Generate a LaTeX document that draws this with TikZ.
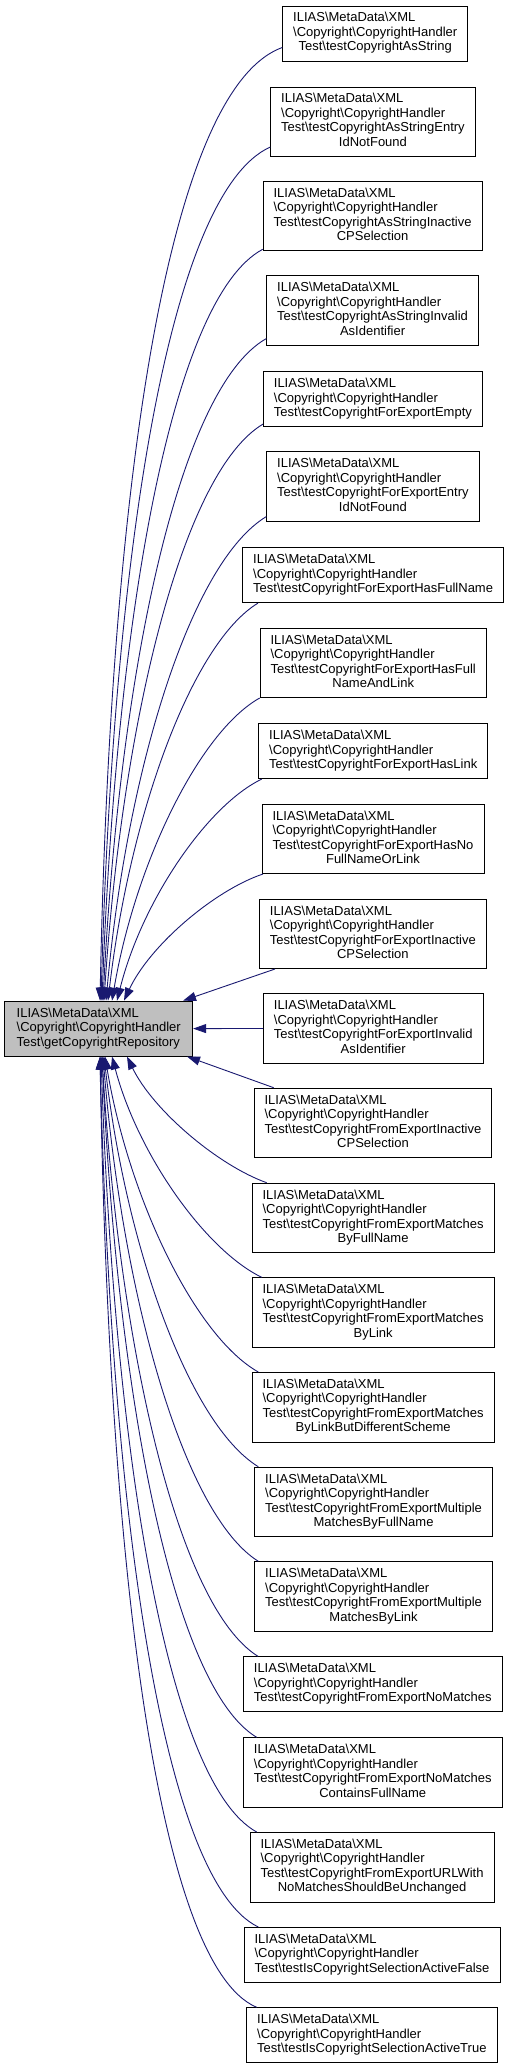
\documentclass[tikz,border=0pt]{standalone}
\usepackage{fontspec}
\setmainfont{Liberation Sans}
\usepackage{tikz}
\usetikzlibrary{arrows.meta}
\usepackage{xcolor}
\definecolor{edgeblue}{HTML}{191970}
\definecolor{rootgray}{HTML}{BFBFBF}
\newcommand{\bsl}{\textbackslash}
\newcommand{\lblthree}[1]{\begin{tabular}{@{}l@{}}ILIAS\bsl MetaData\bsl XML\\\bsl Copyright\bsl CopyrightHandler\\\multicolumn{1}{@{}c@{}}{#1}\end{tabular}}
\newcommand{\lblfour}[2]{\begin{tabular}{@{}l@{}}ILIAS\bsl MetaData\bsl XML\\\bsl Copyright\bsl CopyrightHandler\\#1\\\multicolumn{1}{@{}c@{}}{#2}\end{tabular}}
\tikzset{%
	test node/.style={
		rectangle,
		draw=black,
		line width=0.8pt,
		anchor=north west,
		inner xsep=10.5pt,
		inner ysep=5.75pt,
		font=\fontsize{13}{14.5}\selectfont
	},
	root node/.style={
		test node,
		fill=rootgray,
		inner xsep=12pt
	},
	call edge/.style={
		draw=edgeblue,
		line width=0.9pt,
		-{Triangle[length=13pt,width=9pt]}
	},
}
\begin{document}
\begin{tikzpicture}[
				x=1pt,
				y=-1pt
				]
				\useasboundingbox (0,0) rectangle (515,2068);
				% the called helper
				\node[root node] (root) at (4.3,1000.7) {\begin{tabular}{@{}l@{}}ILIAS\bsl MetaData\bsl XML\\\bsl Copyright\bsl CopyrightHandler\\Test\bsl getCopyrightRepository\end{tabular}};
				% the tests
				\node[test node] (t1) at (282.3,5.7) {\lblthree{Test\bsl testCopyrightAsString}};
				\node[test node] (t2) at (270.3,86.7) {\lblfour{Test\bsl testCopyrightAsStringEntry}{IdNotFound}};
				\node[test node] (t3) at (262.7,181) {\lblfour{Test\bsl testCopyrightAsStringInactive}{CPSelection}};
				\node[test node] (t4) at (266.3,275.3) {\lblfour{Test\bsl testCopyrightAsStringInvalid}{AsIdentifier}};
				\node[test node] (t5) at (263,371.3) {\lblthree{Test\bsl testCopyrightForExportEmpty}};
				\node[test node] (t6) at (266.3,451.3) {\lblfour{Test\bsl testCopyrightForExportEntry}{IdNotFound}};
				\node[test node] (t7) at (242.3,547.3) {\lblthree{Test\bsl testCopyrightForExportHasFullName}};
				\node[test node] (t8) at (259.7,627.7) {\lblfour{Test\bsl testCopyrightForExportHasFull}{NameAndLink}};
				\node[test node] (t9) at (258.3,723.3) {\lblthree{Test\bsl testCopyrightForExportHasLink}};
				\node[test node] (t10) at (261.7,803.7) {\lblfour{Test\bsl testCopyrightForExportHasNo}{FullNameOrLink}};
				\node[test node] (t11) at (259,898.7) {\lblfour{Test\bsl testCopyrightForExportInactive}{CPSelection}};
				\node[test node] (t12) at (263,993.3) {\lblfour{Test\bsl testCopyrightForExportInvalid}{AsIdentifier}};
				\node[test node] (t13) at (253.7,1087.7) {\lblfour{Test\bsl testCopyrightFromExportInactive}{CPSelection}};
				\node[test node] (t14) at (251.7,1182.7) {\lblfour{Test\bsl testCopyrightFromExportMatches}{ByFullName}};
				\node[test node] (t15) at (251.7,1277.3) {\lblfour{Test\bsl testCopyrightFromExportMatches}{ByLink}};
				\node[test node] (t16) at (251.7,1372) {\lblfour{Test\bsl testCopyrightFromExportMatches}{ByLinkButDifferentScheme}};
				\node[test node] (t17) at (254.3,1466.7) {\lblfour{Test\bsl testCopyrightFromExportMultiple}{MatchesByFullName}};
				\node[test node] (t18) at (254.3,1561.3) {\lblfour{Test\bsl testCopyrightFromExportMultiple}{MatchesByLink}};
				\node[test node] (t19) at (243,1656.3) {\lblthree{Test\bsl testCopyrightFromExportNoMatches}};
				\node[test node] (t20) at (243,1737.3) {\lblfour{Test\bsl testCopyrightFromExportNoMatches}{ContainsFullName}};
				\node[test node] (t21) at (249.7,1832) {\lblfour{Test\bsl testCopyrightFromExportURLWith}{NoMatchesShouldBeUnchanged}};
				\node[test node] (t22) at (243.7,1927) {\lblthree{Test\bsl testIsCopyrightSelectionActiveFalse}};
				\node[test node] (t23) at (246.3,2007.3) {\lblthree{Test\bsl testIsCopyrightSelectionActiveTrue}};
				% calls from above
				\draw[call edge] ([yshift=14pt]t1.south west) .. controls (165.1,89.9) and (110,499.7) .. ([xshift=95.7pt]root.north west);
				\draw[call edge] ([yshift=10pt]t2.south west) .. controls (167.5,193.5) and (113,560.9) .. ([xshift=96.7pt]root.north west);
				\draw[call edge] ([yshift=2pt]t3.south west) .. controls (170.9,298.4) and (116,621.7) .. ([xshift=97.7pt]root.north west);
				\draw[call edge] ([yshift=7pt]t4.south west) .. controls (178.4,388.3) and (119.5,673.6) .. ([xshift=98.7pt]root.north west);
				\draw[call edge] ([yshift=3pt]t5.south west) .. controls (182.4,472.1) and (122.3,721.2) .. ([xshift=99.7pt]root.north west);
				\draw[call edge] ([yshift=5pt]t6.south west) .. controls (190.3,562.5) and (126.8,771.1) .. ([xshift=101.7pt]root.north west);
				\draw[call edge] ([xshift=15.7pt]t7.south west) .. controls (191.5,643.5) and (129.6,815.6) .. ([xshift=103.7pt]root.north west);
				\draw[call edge] (t8.south west) .. controls (199.4,731.8) and (135.5,862.7) .. ([xshift=107.7pt]root.north west);
				\draw[call edge] ([xshift=3.4pt]t9.south west) .. controls (206.9,805.5) and (141.9,901.4) .. ([xshift=112.7pt]root.north west);
				\draw[call edge] ([xshift=1.3pt]t10.south west) .. controls (215,890) and (150,945) .. ([xshift=119.7pt]root.north west);
				\draw[call edge] ([xshift=16pt]t11.south west) -- ([xshift=178.7pt]root.north west);
				\draw[call edge] (t12.west) -- (root.east);
				% calls from below
				\draw[call edge] ([xshift=20pt]t13.north west) -- ([xshift=182.7pt]root.south west);
				\draw[call edge] ([xshift=15pt]t14.north west) .. controls (218.5,1165.6) and (153.1,1110.5) .. ([xshift=122.7pt]root.south west);
				\draw[call edge] ([xshift=10pt]t15.north west) .. controls (205,1249.8) and (137.7,1153.9) .. ([xshift=107.7pt]root.south west);
				\draw[call edge] ([xshift=6.6pt]t16.north west) .. controls (195,1336.2) and (129.1,1199.1) .. ([xshift=100.7pt]root.south west);
				\draw[call edge] ([xshift=4pt]t17.north west) .. controls (189.2,1424.3) and (125.9,1246.6) .. ([xshift=99.7pt]root.south west);
				\draw[call edge] ([xshift=4pt]t18.north west) .. controls (183.4,1514.2) and (122.6,1295.7) .. ([xshift=98.7pt]root.south west);
				\draw[call edge] ([xshift=15pt]t19.north west) .. controls (177.6,1606.4) and (119.3,1347.4) .. ([xshift=97.7pt]root.south west);
				\draw[call edge] ([xshift=13.7pt]t20.north west) .. controls (172.4,1686.8) and (117.2,1392.9) .. ([xshift=97.7pt]root.south west);
				\draw[call edge] ([xshift=7pt]t21.north west) .. controls (166.4,1782.3) and (113.9,1447.5) .. ([xshift=96.7pt]root.south west);
				\draw[call edge] ([xshift=14.6pt]t22.north west) .. controls (161.1,1879.9) and (110.8,1505.1) .. ([xshift=95.7pt]root.south west);
				\draw[call edge] ([xshift=10.4pt]t23.north west) .. controls (155.9,1964.5) and (108.6,1555.1) .. ([xshift=95.7pt]root.south west);
			\end{tikzpicture}
\end{document}
